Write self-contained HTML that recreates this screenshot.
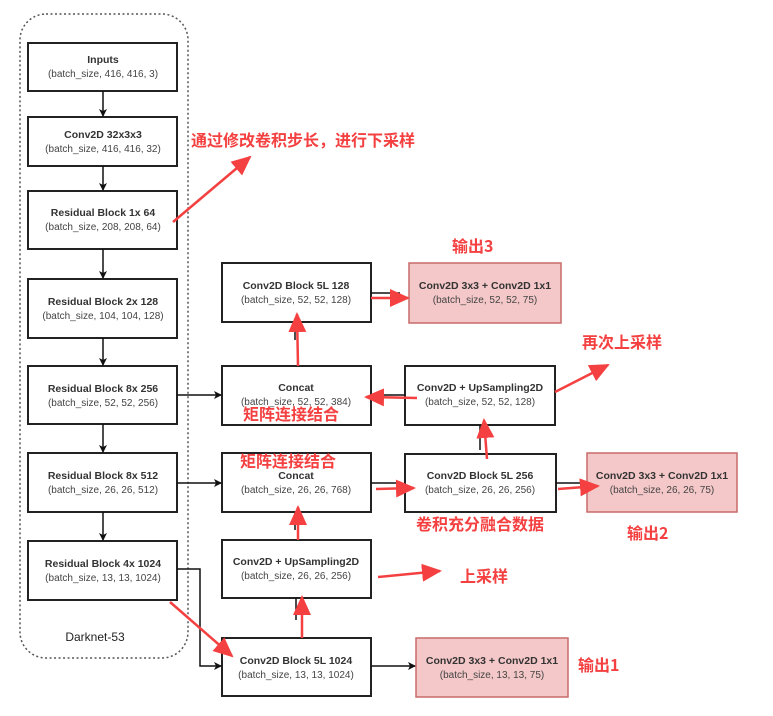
<!DOCTYPE html>
<html><head><meta charset="utf-8"><style>
body{margin:0;background:#fff}
svg text{font-family:"Liberation Sans","Noto Sans CJK SC",sans-serif}
.b{font-weight:bold;font-size:10.5px;fill:#333}
.s{font-size:10px;fill:#444}
.r{font-weight:bold;font-size:16px;fill:#f44040;font-family:"Noto Sans CJK SC","WenQuanYi Zen Hei",sans-serif}
</style></head><body>
<svg width="773" height="711" viewBox="0 0 773 711" xmlns="http://www.w3.org/2000/svg">
<defs>
<marker id="ka" markerWidth="8" markerHeight="8" refX="7" refY="4" orient="auto" markerUnits="userSpaceOnUse"><path d="M0,0 L8,4 L0,8 L2,4 z" fill="#111"/></marker>
<marker id="ra" markerWidth="20" markerHeight="18" refX="18" refY="9" orient="auto" markerUnits="userSpaceOnUse"><path d="M0,0 L20,9 L0,18 z" fill="#f44040"/></marker>
</defs>
<rect x="20" y="14" width="168" height="644" rx="26" fill="none" stroke="#555" stroke-width="1.5" stroke-dasharray="2,2.5"/>
<text x="95" y="641" text-anchor="middle" class="b" style="font-weight:normal;font-size:12px;fill:#222">Darknet-53</text>
<g fill="#fff" stroke="#222" stroke-width="2">
<rect x="28" y="43" width="149" height="48"/>
<rect x="28" y="117" width="149" height="49"/>
<rect x="28" y="191" width="149" height="58"/>
<rect x="28" y="279" width="149" height="59"/>
<rect x="28" y="366" width="149" height="58"/>
<rect x="28" y="453" width="149" height="59"/>
<rect x="28" y="541" width="149" height="59"/>
<rect x="222" y="263" width="149" height="59"/>
<rect x="222" y="366" width="149" height="59"/>
<rect x="222" y="453" width="149" height="59"/>
<rect x="222" y="540" width="149" height="58"/>
<rect x="222" y="638" width="149" height="58"/>
<rect x="405" y="366" width="150" height="59"/>
<rect x="405" y="454" width="151" height="58"/>
</g>
<g fill="#f4c8c8" stroke="#c86a6a" stroke-width="1.5">
<rect x="409" y="263" width="152" height="60"/>
<rect x="587" y="453" width="150" height="59"/>
<rect x="416" y="638" width="152" height="59"/>
</g>
<g text-anchor="middle">
<text x="103" y="63" class="b">Inputs</text><text x="103" y="77" class="s">(batch_size, 416, 416, 3)</text>
<text x="103" y="138" class="b">Conv2D 32x3x3</text><text x="103" y="152" class="s">(batch_size, 416, 416, 32)</text>
<text x="103" y="216" class="b">Residual Block 1x  64</text><text x="103" y="230" class="s">(batch_size, 208, 208, 64)</text>
<text x="103" y="305" class="b">Residual Block 2x  128</text><text x="103" y="319" class="s">(batch_size, 104, 104, 128)</text>
<text x="103" y="392" class="b">Residual Block 8x  256</text><text x="103" y="406" class="s">(batch_size, 52, 52, 256)</text>
<text x="103" y="479" class="b">Residual Block 8x  512</text><text x="103" y="493" class="s">(batch_size, 26, 26, 512)</text>
<text x="103" y="567" class="b">Residual Block 4x  1024</text><text x="103" y="581" class="s">(batch_size, 13, 13, 1024)</text>
<text x="296" y="289" class="b">Conv2D Block 5L  128</text><text x="296" y="303" class="s">(batch_size, 52, 52, 128)</text>
<text x="296" y="391" class="b">Concat</text><text x="296" y="405" class="s">(batch_size, 52, 52, 384)</text>
<text x="296" y="479" class="b">Concat</text><text x="296" y="493" class="s">(batch_size, 26, 26, 768)</text>
<text x="296" y="565" class="b">Conv2D + UpSampling2D</text><text x="296" y="579" class="s">(batch_size, 26, 26, 256)</text>
<text x="296" y="664" class="b">Conv2D Block 5L  1024</text><text x="296" y="678" class="s">(batch_size, 13, 13, 1024)</text>
<text x="480" y="391" class="b">Conv2D + UpSampling2D</text><text x="480" y="405" class="s">(batch_size, 52, 52, 128)</text>
<text x="480" y="479" class="b">Conv2D Block 5L  256</text><text x="480" y="493" class="s">(batch_size, 26, 26, 256)</text>
<text x="485" y="289" class="b">Conv2D 3x3 + Conv2D 1x1</text><text x="485" y="303" class="s">(batch_size, 52, 52, 75)</text>
<text x="662" y="479" class="b">Conv2D 3x3 + Conv2D 1x1</text><text x="662" y="493" class="s">(batch_size, 26, 26, 75)</text>
<text x="492" y="664" class="b">Conv2D 3x3 + Conv2D 1x1</text><text x="492" y="678" class="s">(batch_size, 13, 13, 75)</text>
</g>
<g stroke="#111" stroke-width="1.5" fill="none" marker-end="url(#ka)">
<line x1="103" y1="91" x2="103" y2="116"/>
<line x1="103" y1="166" x2="103" y2="190"/>
<line x1="103" y1="249" x2="103" y2="278"/>
<line x1="103" y1="338" x2="103" y2="365"/>
<line x1="103" y1="424" x2="103" y2="452"/>
<line x1="103" y1="512" x2="103" y2="540"/>
<line x1="177" y1="395" x2="221" y2="395"/>
<line x1="177" y1="483" x2="221" y2="483"/>
<polyline points="177,569 200,569 200,666 221,666"/>
<line x1="371" y1="666" x2="415" y2="666"/>
</g>
<g stroke="#111" stroke-width="1.5">
<line x1="371" y1="293" x2="400" y2="293"/>
<line x1="371" y1="483" x2="400" y2="483"/>
<line x1="556" y1="483" x2="580" y2="483"/>
<line x1="375" y1="395" x2="405" y2="395"/>
<line x1="295" y1="322" x2="295" y2="340"/>
<line x1="295" y1="512" x2="295" y2="530"/>
<line x1="296" y1="598" x2="296" y2="620"/>
<line x1="480" y1="425" x2="480" y2="450"/>
</g>
<g stroke="#f44040" stroke-width="2.5" fill="none" marker-end="url(#ra)">
<line x1="173" y1="222" x2="250" y2="157"/>
<line x1="371" y1="298" x2="408" y2="298"/>
<line x1="298" y1="366" x2="297" y2="314"/>
<line x1="417" y1="398" x2="366" y2="397"/>
<line x1="555" y1="392" x2="608" y2="365"/>
<line x1="487" y1="459" x2="484" y2="420"/>
<line x1="376" y1="489" x2="414" y2="488"/>
<line x1="558" y1="489" x2="598" y2="486"/>
<line x1="298" y1="540" x2="298" y2="507"/>
<line x1="378" y1="577" x2="440" y2="571"/>
<line x1="302" y1="638" x2="302" y2="597"/>
<line x1="170" y1="602" x2="232" y2="656"/>
</g>
<text x="191" y="146" class="r">通过修改卷积步长，进行下采样</text>
<text x="452" y="252" class="r">输出3</text>
<text x="582" y="348" class="r">再次上采样</text>
<text x="243" y="420" class="r">矩阵连接结合</text>
<text x="240" y="467" class="r">矩阵连接结合</text>
<text x="416" y="530" class="r">卷积充分融合数据</text>
<text x="627" y="539" class="r">输出2</text>
<text x="460" y="582" class="r">上采样</text>
<text x="578" y="671" class="r">输出1</text>
</svg>
</body></html>
